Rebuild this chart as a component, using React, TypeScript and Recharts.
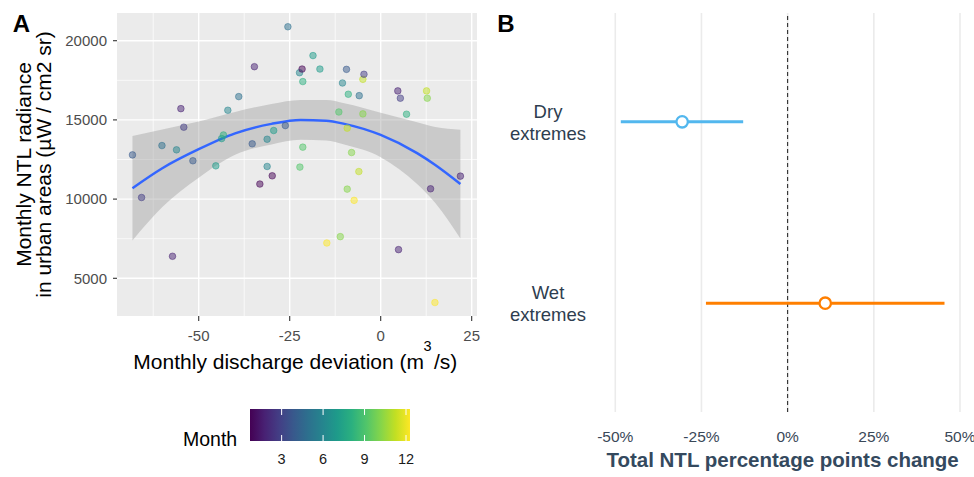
import React from 'react';
import {
  ComposedChart,
  Scatter,
  Line,
  Area,
  XAxis,
  YAxis,
  CartesianGrid,
  ReferenceLine,
  ErrorBar,
} from 'recharts';

const FONT = '"Liberation Sans", Arial, Helvetica, sans-serif';

// ---------- Panel A : monthly points ----------
const pointX = [
  -68.2, -65.7, -60.1, -56.1, -57.2, -54.9, -54.1, -51.6, -45.3, -43.7, -43.2, -42.0,
  -39.0, -35.3, -34.7, -33.2, -31.2, -31.2, -29.8, -29.4, -26.2, -25.5, -22.3, -21.6,
  -21.4, -21.4, -22.2, -18.6, -16.7, -14.8, -11.5, -11.1, -10.5, -9.4, -8.9, -9.2,
  -9.2, -8.0, -7.3, -6.0, -5.9, -4.9, -4.9, -4.6, 4.7, 5.4, 4.9, 7.1, 12.6, 12.8,
  13.7, 21.9, 14.9,
];
const pointY = [
  12790, 10100, 13380, 13110, 6390, 15710, 14540, 12420, 12100, 13820, 14050, 15610,
  16470, 13490, 18360, 10950, 13780, 12060, 11470, 14330, 14640, 20880, 17980, 18210,
  17420, 13280, 12020, 19060, 18210, 7230, 15500, 7630, 17330, 18190, 16620, 14480,
  10630, 12940, 9920, 11740, 16530, 15380, 17560, 17880, 16830, 16370, 6810, 15360,
  16830, 16370, 10650, 11450, 3470,
];
const pointMonth = [
  4, 3, 5, 6, 2, 2, 3, 4, 7, 7, 8, 6,
  5, 4, 2, 1, 6, 6, 1, 7, 4, 5, 6, 1,
  8, 9, 9, 7, 7, 12, 9, 10, 6, 4, 8, 11,
  10, 10, 12, 11, 5, 10, 11, 3, 2, 3, 2, 8, 11, 10,
  2, 2, 12,
];

// ---------- Panel A : smooth fit and confidence band ----------
const smoothX = [-68.2, -60, -50, -40, -30, -22, -15, -10, 0, 10, 15, 21.9];
const fitY = [10690, 11950, 13150, 14150, 14750, 15000, 14950, 14750, 14050, 12900, 12150, 10950];
const ciLowY = [7390, 9500, 11350, 12800, 13450, 13750, 13700, 13450, 12650, 10950, 9750, 7520];
const ciHighY = [13990, 14400, 14900, 15500, 16000, 16250, 16250, 16050, 15450, 14850, 14550, 14380];

const xTicksA = [-50, -25, 0, 25];
const yTicksA = [5000, 10000, 15000, 20000];
const xMinorA = [-62.5, -37.5, -12.5, 12.5];
const yMinorA = [7500, 12500, 17500];

const viridis12 = [
  '#440154', '#482173', '#433E85', '#38598C', '#2D708E', '#25858E',
  '#1E9B8A', '#2BB07F', '#51C56A', '#85D54A', '#C2DF23', '#FDE725',
];
const monthTicks = [3, 6, 9, 12];

// ---------- Panel B ----------
const extremeTypes = ['Dry extremes', 'Wet extremes'];
const extremePos = [2, 1];
const estimate = [-30.6, 10.9];
const ciLow = [-48.4, -23.7];
const ciHigh = [-12.9, 45.5];
const extremeColors = ['#52B7EE', '#FF7F00'];
const xTicksB = [-50, -25, 0, 25, 50];

const points = pointX.map((x, i) => ({ x, y: pointY[i], month: pointMonth[i] }));
const smooth = smoothX.map((x, i) => ({ x, fit: fitY[i], band: [ciLowY[i], ciHighY[i]] }));
const extremeRows = extremeTypes.map((t, i) => ({
  name: t,
  x: estimate[i],
  y: extremePos[i],
  err: [estimate[i] - ciLow[i], ciHigh[i] - estimate[i]],
}));

const MonthDot = (props: any) => {
  const { cx, cy, payload } = props;
  const c = viridis12[payload.month - 1];
  return (
    <circle cx={cx} cy={cy} r={3.3} fill={c} fillOpacity={0.5} stroke={c} strokeOpacity={0.55} strokeWidth={0.9} />
  );
};

const YTitleA = () => (
  <g fontFamily={FONT} fontSize={21} fill="#000000">
    <text x={30.5} y={164.5} textAnchor="middle" transform="rotate(-90 30.5 164.5)">
      {'Monthly NTL radiance'}
    </text>
    <text x={50.5} y={164.5} textAnchor="middle" transform="rotate(-90 50.5 164.5)">
      {'in urban areas (µW / cm2 sr)'}
    </text>
  </g>
);

const XTitleA = () => (
  <g fontFamily={FONT} fill="#000000">
    <text x={424} y={368.5} textAnchor="end" fontSize={21}>
      {'Monthly discharge deviation (m'}
    </text>
    <text x={423.5} y={350.5} textAnchor="start" fontSize={14.5}>
      {'3'}
    </text>
    <text x={434} y={368.5} textAnchor="start" fontSize={21}>
      {'/s)'}
    </text>
  </g>
);

const XTitleB = () => (
  <text x={292.6} y={466.7} textAnchor="middle" fontFamily={FONT} fontSize={20.5} fontWeight="bold" fill="#34495E">
    {'Total NTL percentage points change'}
  </text>
);

const CategoryTick = (props: any) => {
  const { y, payload } = props;
  const idx = extremePos.indexOf(payload.value);
  if (idx < 0) return null;
  const words = extremeTypes[idx].split(' ');
  return (
    <g fontFamily={FONT} fontSize={18.5} fill="#2E3D4F">
      <text x={58} y={y - 3.7} textAnchor="middle">{words[0]}</text>
      <text x={58} y={y + 18.2} textAnchor="middle">{words[1]}</text>
    </g>
  );
};

const makeExtremeDot = (color: string) => (props: any) => {
  const { cx, cy } = props;
  return <circle cx={cx} cy={cy} r={5.7} fill="#FFFFFF" stroke={color} strokeWidth={2.3} />;
};

const monthToX = (m: number) => 254 + ((m - 1) * 152) / 11;

export default function App() {
  return (
    <div
      style={{
        position: 'absolute',
        left: 0,
        top: 0,
        width: 974,
        height: 477,
        overflow: 'hidden',
        background: '#FFFFFF',
        fontFamily: FONT,
      }}
    >
      <div style={{ position: 'absolute', left: 0, top: 0 }}>
        <ComposedChart width={490} height={380} data={smooth} margin={{ top: 13, right: 13, bottom: 0, left: 0 }}>
          <CartesianGrid
            fill="#EBEBEB"
            stroke="#FFFFFF"
            strokeWidth={0.7}
            horizontalValues={yMinorA}
            verticalValues={xMinorA}
          />
          <CartesianGrid stroke="#FFFFFF" strokeWidth={1.4} horizontalValues={yTicksA} verticalValues={xTicksA} />
          <XAxis
            type="number"
            dataKey="x"
            domain={[-72.45, 26.46]}
            allowDataOverflow
            ticks={xTicksA}
            interval={0}
            axisLine={false}
            tickLine={{ stroke: '#333333', strokeWidth: 1.1 }}
            tickSize={5}
            tickMargin={9}
            height={64}
            tick={{ fill: '#4D4D4D', fontSize: 15, fontFamily: FONT }}
            label={XTitleA}
          />
          <YAxis
            type="number"
            dataKey="y"
            domain={[2620, 21749]}
            allowDataOverflow
            ticks={yTicksA}
            interval={0}
            axisLine={false}
            tickLine={{ stroke: '#333333', strokeWidth: 1.1 }}
            tickSize={4}
            tickMargin={6}
            width={117}
            tick={{ fill: '#4D4D4D', fontSize: 15, fontFamily: FONT }}
            label={YTitleA}
          />
          <Scatter data={points} dataKey="y" shape={MonthDot} isAnimationActive={false} />
          <Area
            dataKey="band"
            type="monotone"
            fill="#999999"
            fillOpacity={0.4}
            stroke="none"
            activeDot={false}
            isAnimationActive={false}
          />
          <Line
            dataKey="fit"
            type="monotone"
            stroke="#3366FF"
            strokeWidth={2.5}
            dot={false}
            activeDot={false}
            isAnimationActive={false}
          />
        </ComposedChart>
      </div>

      <div style={{ position: 'absolute', left: 490, top: 0 }}>
        <ComposedChart width={484} height={477} margin={{ top: 13, right: 13.3, bottom: 0, left: 0 }}>
          <CartesianGrid horizontal={false} verticalValues={xTicksB} stroke="#EBEBEB" strokeWidth={1.6} />
          <XAxis
            type="number"
            dataKey="x"
            domain={[-53.1, 50.2]}
            allowDataOverflow
            ticks={xTicksB}
            interval={0}
            tickFormatter={(v: number) => `${v}%`}
            axisLine={false}
            tickLine={false}
            tickSize={0}
            tickMargin={19}
            height={65}
            tick={{ fill: '#3A4858', fontSize: 15.5, fontFamily: FONT }}
            label={XTitleB}
          />
          <YAxis
            type="number"
            dataKey="y"
            domain={[0.4, 2.6]}
            allowDataOverflow
            ticks={extremePos}
            interval={0}
            axisLine={false}
            tickLine={false}
            width={114.6}
            tick={CategoryTick}
          />
          <ReferenceLine x={0} stroke="#000000" strokeDasharray="4 3" strokeWidth={0.9} />
          {extremeRows.map((row, i) => (
            <Scatter
              key={row.name}
              name={row.name}
              data={[row]}
              dataKey="y"
              shape={makeExtremeDot(extremeColors[i])}
              isAnimationActive={false}
            >
              <ErrorBar dataKey="err" direction="x" width={0} stroke={extremeColors[i]} strokeWidth={3} />
            </Scatter>
          ))}
        </ComposedChart>
      </div>

      <svg
        width={974}
        height={477}
        style={{ position: 'absolute', left: 0, top: 0, pointerEvents: 'none' }}
      >
        <defs>
          <linearGradient id="viridisGrad" x1="0" x2="1" y1="0" y2="0">
            {viridis12.map((c, i) => (
              <stop key={c} offset={`${(i / 11) * 100}%`} stopColor={c} />
            ))}
          </linearGradient>
        </defs>
        <text x={12.7} y={31.7} fontFamily={FONT} fontSize={24} fontWeight="bold" fill="#000">A</text>
        <text x={497.3} y={31.7} fontFamily={FONT} fontSize={24} fontWeight="bold" fill="#000">B</text>
        <text x={183} y={446} fontFamily={FONT} fontSize={19.5} fill="#000">Month</text>
        <rect x={250} y={409} width={160} height={32} fill="url(#viridisGrad)" />
        {monthTicks.map((m) => (
          <g key={m}>
            <line x1={monthToX(m)} x2={monthToX(m)} y1={409} y2={415} stroke="#FFFFFF" strokeWidth={1} />
            <line x1={monthToX(m)} x2={monthToX(m)} y1={435} y2={441} stroke="#FFFFFF" strokeWidth={1} />
            <text x={monthToX(m)} y={463.5} textAnchor="middle" fontFamily={FONT} fontSize={14.5} fill="#1A1A1A">
              {m}
            </text>
          </g>
        ))}
      </svg>
    </div>
  );
}
